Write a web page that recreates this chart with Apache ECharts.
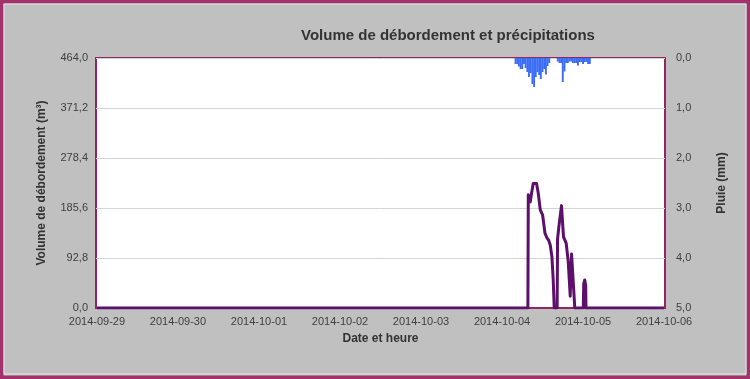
<!DOCTYPE html>
<html>
<head>
<meta charset="utf-8">
<script src="https://cdn.jsdelivr.net/npm/echarts@6/dist/echarts.min.js"></script>
<style>
html,body{margin:0;padding:0;background:#c0c0c0;}
#c{width:750px;height:379px;}
</style>
</head>
<body>
<div id="c"></div>
<script>
// ---- Data ----
var titleText = "Volume de débordement et précipitations";
var xAxisName = "Date et heure";
var leftAxisName = "Volume de débordement (m³)";
var rightAxisName = "Pluie (mm)";

var xMin = "2014-09-29 00:00";
var xMax = "2014-10-06 00:00";

// Overflow volume (m³)
var volTimes = [
  "2014-09-29 00:00", "2014-10-04 07:40", "2014-10-04 07:47", "2014-10-04 08:22", "2014-10-04 08:45",
  "2014-10-04 09:15", "2014-10-04 09:40", "2014-10-04 10:14", "2014-10-04 10:44", "2014-10-04 11:20",
  "2014-10-04 11:43", "2014-10-04 12:01", "2014-10-04 12:43", "2014-10-04 13:19", "2014-10-04 13:47",
  "2014-10-04 14:17", "2014-10-04 14:47", "2014-10-04 15:10", "2014-10-04 15:28", "2014-10-04 16:20",
  "2014-10-04 16:27", "2014-10-04 16:50", "2014-10-04 17:37", "2014-10-04 18:13", "2014-10-04 18:43",
  "2014-10-04 19:01", "2014-10-04 19:37", "2014-10-04 20:12", "2014-10-04 20:36", "2014-10-04 20:59",
  "2014-10-04 21:25", "2014-10-04 21:33", "2014-10-05 00:05", "2014-10-05 00:12", "2014-10-05 00:30",
  "2014-10-05 00:47", "2014-10-05 00:52", "2014-10-06 00:00"
];
var volValues = [
  0, 0, 210, 197, 213,
  231, 233, 231, 213, 182,
  185, 173, 139, 130, 126,
  117, 95, 52, 0, 0,
  128, 150, 190, 132, 130,
  120, 86, 22, 100, 102,
  15, 0, 0, 45, 52,
  42, 0, 0
];

// Rainfall (mm), 30-minute steps
var rainStart = "2014-10-04 04:00";
var rainStepMinutes = 30;
var rainValues = [
  0.12, 0.12, 0.17, 0.22, 0.22, 0.12, 0.20, 0.28, 0.38, 0.30,
  0.52, 0.58, 0.38, 0.28, 0.34, 0.42, 0.28, 0.22, 0.33, 0.16,
  0.10, 0, 0, 0, 0, 0.07, 0.10, 0.10, 0.48, 0.27,
  0.10, 0.10, 0.07, 0.07, 0.10, 0.10, 0.10, 0.15, 0.08, 0.08,
  0.12, 0.08, 0.08, 0.12, 0.12
];

var leftTicks = {min: 0, max: 464, interval: 92.8};
var rightTicks = {min: 0, max: 5, interval: 1};

// ---- Build ----
function parseT(s) {
  var p = s.split(/[- :]/).map(Number);
  return new Date(p[0], p[1] - 1, p[2], p[3] || 0, p[4] || 0).getTime();
}
var volData = volTimes.map(function (t, i) { return [parseT(t), volValues[i]]; });
var rs = parseT(rainStart);
var rainData = rainValues.map(function (v, i) { return [rs + i * rainStepMinutes * 60000, v]; });

function fmt1(v) { return v.toFixed(1).replace('.', ','); }
var DAY = 86400000;
var font = "'Liberation Sans', Arial, sans-serif";
var frame = '#a3326c';
var plotFrame = '#93245f';

var chart = echarts.init(document.getElementById('c'), null, {renderer: 'canvas'});
chart.setOption({
  backgroundColor: '#c0c0c0',
  animation: false,
  textStyle: {fontFamily: font},
  graphic: [{
    type: 'rect', z: 100, silent: true,
    shape: {x: 0, y: 0, width: 750, height: 379},
    style: {fill: 'none', stroke: frame, lineWidth: 7}
  }, {
    type: 'rect', z: 100, silent: true,
    shape: {x: 4, y: 4, width: 742, height: 370},
    style: {fill: 'none', stroke: '#dfe6e6', lineWidth: 1}
  }],
  title: {
    text: titleText, left: 296, top: 23,
    textStyle: {fontFamily: font, fontSize: 15, fontWeight: 'bold', color: '#333'}
  },
  grid: {
    left: 96, right: 85, top: 58, bottom: 71,
    show: true, backgroundColor: '#fff', borderColor: plotFrame, borderWidth: 2
  },
  xAxis: {
    type: 'time',
    min: parseT(xMin), max: parseT(xMax),
    minInterval: DAY, maxInterval: DAY, splitNumber: 7,
    name: xAxisName, nameLocation: 'middle', nameGap: 25,
    nameTextStyle: {fontFamily: font, fontSize: 12, fontWeight: 'bold', color: '#333'},
    axisLine: {show: true, lineStyle: {color: plotFrame, width: 2}},
    axisTick: {show: false},
    splitLine: {show: false},
    axisLabel: {
      fontFamily: font, fontSize: 11, color: '#404040', margin: 8, hideOverlap: false,
      formatter: function (v) { return echarts.time.format(v, '{yyyy}-{MM}-{dd}', false); }
    }
  },
  yAxis: [{
    type: 'value', position: 'left',
    min: leftTicks.min, max: leftTicks.max, interval: leftTicks.interval,
    name: leftAxisName, nameLocation: 'middle', nameGap: 48, nameRotate: 90,
    nameTextStyle: {fontFamily: font, fontSize: 12, fontWeight: 'bold', color: '#333'},
    axisLine: {show: false}, axisTick: {show: false},
    splitLine: {show: true, lineStyle: {color: '#d4d4d4', width: 1}},
    axisLabel: {fontFamily: font, fontSize: 11, color: '#404040', margin: 8, formatter: fmt1}
  }, {
    type: 'value', position: 'right', inverse: true,
    min: rightTicks.min, max: rightTicks.max, interval: rightTicks.interval,
    name: rightAxisName, nameLocation: 'middle', nameGap: 51, nameRotate: 90,
    nameTextStyle: {fontFamily: font, fontSize: 12, fontWeight: 'bold', color: '#333'},
    axisLine: {show: false}, axisTick: {show: false},
    splitLine: {show: false},
    axisLabel: {fontFamily: font, fontSize: 11, color: '#404040', margin: 11, formatter: fmt1}
  }],
  series: [{
    type: 'bar', yAxisIndex: 1, data: rainData,
    barWidth: 1.9, itemStyle: {color: '#3a6cf6'}, z: 2
  }, {
    type: 'line', yAxisIndex: 0, data: volData,
    showSymbol: false, symbol: 'none',
    lineStyle: {color: '#5d0f6c', width: 3, join: 'round'}, z: 3
  }]
});
</script>
</body>
</html>
